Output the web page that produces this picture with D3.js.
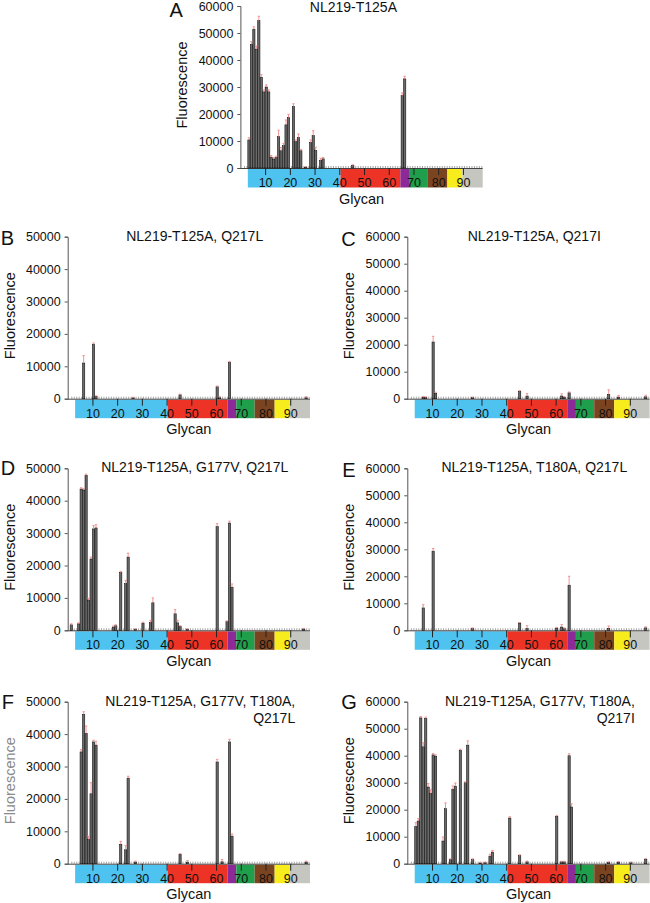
<!DOCTYPE html>
<html><head><meta charset="utf-8">
<script src="https://cdn.jsdelivr.net/npm/d3@7"></script>
<style>body{margin:0;background:#fff} svg{display:block} text{font-family:"Liberation Sans",Arial,sans-serif}</style>
</head><body><svg id="c" width="650" height="903"></svg>
<script>
// ---------- data ----------
const xTickLabels = [10,20,30,40,50,60,70,80,90];
const bandStarts = [3, 40.5, 64.7, 68.2, 75.6, 83.7, 89.8];
const bandEnds   = [40.5, 64.7, 68.2, 75.6, 83.7, 89.8, 98];
const bandColors = ["#4fc3f0","#ec3325","#8c2a97","#1f9f4b","#7b4420","#f7ec1c","#c4c6bf"];

const A_ids  = [3,4,5,6,7,8,9,10,11,12,13,14,15,16,17,18,19,21,22,23,24,26,28,29,30,32,33,45,65,66];
const A_vals = [10400,45800,51400,44000,54600,33600,28200,30000,28200,4000,3300,3900,11600,6400,8300,16000,18700,22800,9800,11300,6400,300,9400,12000,6500,2800,3400,1000,26800,33000];
const A_errs = [800,1000,900,1200,1600,1000,700,800,700,600,600,500,2400,1200,800,1800,1200,1000,600,1300,500,200,1000,1800,1200,800,500,200,1000,1000];

const B_ids  = [6,10,11,26,45,60,61,65,96];
const B_vals = [11000,16800,700,300,1200,3700,300,11200,300];
const B_errs = [2300,400,200,100,200,200,300,300,300];

const C_ids  = [6,7,10,11,26,45,48,62,63,65,81,85,96];
const C_vals = [500,400,21000,2000,400,2700,1000,1000,500,2200,1600,600,700];
const C_errs = [300,300,2100,400,200,300,900,800,300,300,1700,600,600];

const D_ids  = [1,4,5,6,7,8,9,10,11,18,19,21,23,24,27,30,33,34,43,44,45,48,60,64,65,66,95];
const D_vals = [1700,2000,43600,43300,47800,9300,22000,31300,31600,1000,1400,17800,14400,22600,300,2200,2400,8500,5100,2300,1200,300,32000,2700,33100,13300,400];
const D_errs = [300,300,400,400,400,600,600,1000,1000,300,300,400,1000,1200,200,300,700,1500,1300,800,200,200,900,200,600,1000,200];

const E_ids  = [6,10,26,45,48,60,62,63,65,81,96];
const E_vals = [8300,29300,600,2700,700,800,1200,600,16700,700,900];
const E_errs = [1200,1000,300,200,1000,300,900,300,3300,900,400];

const F_ids  = [5,6,7,8,9,10,11,21,23,24,27,45,48,60,62,65,66,96];
const F_vals = [34500,46100,40200,7500,21600,37600,36600,6000,4300,26400,500,2900,500,31400,600,37600,8500,500];
const F_errs = [700,800,2300,1000,3400,500,1200,900,1300,600,300,200,500,800,700,800,700,300];

const G_ids  = [3,4,5,6,7,8,9,10,11,14,15,17,18,19,21,23,24,26,29,31,33,34,41,45,48,60,62,63,65,66,81,85,90,96];
const G_vals = [13800,15800,54000,43300,53800,28400,26000,40300,39800,8400,20400,1600,27600,28700,42000,30000,43900,1500,300,400,2800,4300,16900,3000,700,17500,700,700,40000,21000,500,600,400,1600];
const G_errs = [1400,900,500,1500,500,1300,1500,500,500,1500,2100,200,1200,1200,400,300,1600,300,200,200,700,600,500,300,300,400,200,200,700,1200,200,200,200,300];

const panels = [
  {L:"A", title:["NL219-T125A"], ids:A_ids, vals:A_vals, errs:A_errs, ymax:60000, ax:240.4, top:6, tx:113, ty:5.5, anchor:"middle", lx:-71, ly:11},
  {L:"B", title:["NL219-T125A, Q217L"], ids:B_ids, vals:B_vals, errs:B_errs, ymax:50000, ax:67.7, top:236.7, tx:127, ty:4, anchor:"middle", lx:-67, ly:8.5},
  {L:"C", title:["NL219-T125A, Q217I"], ids:C_ids, vals:C_vals, errs:C_errs, ymax:60000, ax:407.3, top:236.7, tx:127, ty:4, anchor:"middle", lx:-66, ly:9.5},
  {L:"D", title:["NL219-T125A, G177V, Q217L"], ids:D_ids, vals:D_vals, errs:D_errs, ymax:50000, ax:67.7, top:468.3, tx:127, ty:4, anchor:"middle", lx:-67, ly:7},
  {L:"E", title:["NL219-T125A, T180A, Q217L"], ids:E_ids, vals:E_vals, errs:E_errs, ymax:60000, ax:407.3, top:468.3, tx:127, ty:4, anchor:"middle", lx:-65, ly:8.5},
  {L:"F", title:["NL219-T125A, G177V, T180A,","Q217L"], ids:F_ids, vals:F_vals, errs:F_errs, ymax:50000, ax:67.7, top:701.7, tx:227.5, ty:4, anchor:"end", lx:-66, ly:7, ycol:"#8a8a8a"},
  {L:"G", title:["NL219-T125A, G177V, T180A,","Q217I"], ids:G_ids, vals:G_vals, errs:G_errs, ymax:60000, ax:407.3, top:701.7, tx:227.5, ty:4, anchor:"end", lx:-66, ly:7}
];

// ---------- drawing ----------
const svg = d3.select("#c");
const W = 242.3, H = 162;
const x = d3.scaleLinear().domain([0, 98]).range([0, W]);
const minorPos = d3.range(1, 98).map(n => n + 0.45);

panels.forEach(p => {
  const g = svg.append("g").attr("transform", `translate(${p.ax},${p.top})`);
  const y = d3.scaleLinear().domain([0, p.ymax]).range([H, 0]);

  // colour band
  g.selectAll("rect.band").data(bandStarts).join("rect")
    .attr("x", (d) => x(d)).attr("width", (d, i) => x(bandEnds[i]) - x(d))
    .attr("y", H + 1).attr("height", 18.5)
    .attr("fill", (d, i) => bandColors[i]);

  // y axis
  const ya = g.append("g").call(d3.axisLeft(y).tickValues(d3.range(0, p.ymax + 1, 10000))
      .tickSize(3).tickPadding(4).tickFormat(d3.format("d")));
  ya.select(".domain").attr("stroke", "#555");
  ya.selectAll(".tick line").attr("stroke", "#555");
  ya.selectAll("text").attr("font-size", "12.5px").attr("fill", "#111")
    .attr("font-family", '"Liberation Sans",Arial,sans-serif');

  // minor x ticks (upward)
  const mi = g.append("g").attr("transform", `translate(0,${H})`)
    .call(d3.axisBottom(x).tickValues(minorPos).tickSize(-2).tickFormat(""));
  mi.select(".domain").remove();
  mi.selectAll(".tick line").attr("stroke", "#666").attr("stroke-width", 0.6);

  // major x ticks + labels
  const xa = g.append("g").attr("transform", `translate(0,${H})`)
    .call(d3.axisBottom(x).tickValues(xTickLabels).tickSize(7).tickPadding(3).tickFormat(d3.format("d")));
  xa.select(".domain").attr("stroke", "#444").attr("d", `M0,0.5H${W}`);
  xa.selectAll(".tick line").attr("stroke", "#222");
  xa.selectAll("text").attr("font-size", "12.5px").attr("fill", "#111")
    .attr("font-family", '"Liberation Sans",Arial,sans-serif');

  // bars
  const rows = p.ids.map((id, i) => ({id, v: p.vals[i], e: p.errs[i]}));
  g.selectAll("rect.bar").data(rows).join("rect").attr("class", "bar")
    .attr("x", d => x(d.id + 0.45) - 1.1).attr("width", 2.2)
    .attr("y", d => y(d.v)).attr("height", d => H - y(d.v))
    .attr("fill", "#6a6a6a").attr("stroke", "#111").attr("stroke-width", 0.6);

  // error bars
  g.selectAll("path.err").data(rows).join("path").attr("class", "err")
    .attr("d", d => {
      const cx = x(d.id + 0.45), y0 = y(d.v), y1 = y(d.v + d.e);
      return `M${cx},${y0}V${y1}M${cx - 1.2},${y1}H${cx + 1.2}`;
    })
    .attr("stroke", "#f08a8a").attr("stroke-width", 0.9).attr("fill", "none");

  // titles
  const t = g.append("text").attr("x", p.tx).attr("y", p.ty)
    .attr("text-anchor", p.anchor).attr("font-size", "14px").attr("fill", "#111");
  p.title.forEach((line, i) => {
    t.append("tspan").attr("x", p.tx).attr("y", p.ty + i * 17.6).text(line);
  });

  // panel letter
  g.append("text").attr("x", p.lx).attr("y", p.ly).attr("font-size", "20px")
    .attr("fill", "#111").text(p.L);

  // y title
  g.append("text").attr("transform", `translate(-53,${H / 2 - 2}) rotate(-90)`)
    .attr("text-anchor", "middle").attr("font-size", "14.5px")
    .attr("fill", p.ycol || "#111").text("Fluorescence");

  // x title
  g.append("text").attr("x", x(49)).attr("y", H + 35.5)
    .attr("text-anchor", "middle").attr("font-size", "14.5px").attr("fill", "#111").text("Glycan");
});
</script>
</body></html>
